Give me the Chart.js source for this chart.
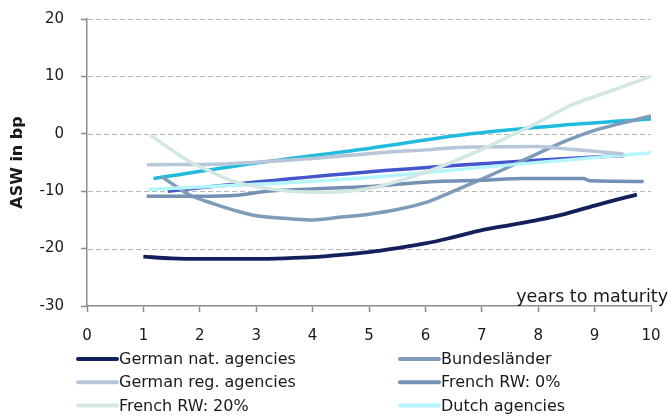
<!DOCTYPE html>
<html>
<head>
<meta charset="utf-8">
<script src="https://cdn.jsdelivr.net/npm/chart.js@4/dist/chart.umd.min.js"></script>
<style>
  html, body { margin: 0; padding: 0; background: #fff; }
  #wrap { width: 672px; height: 417px; position: relative; }
</style>
</head>
<body>
<div id="wrap"><canvas id="chart" width="672" height="417"></canvas></div>
<script>
// x axis ticks and y axis ticks
const xTicks = [0, 1, 2, 3, 4, 5, 6, 7, 8, 9, 10];
const yTicks = [-30, -20, -10, 0, 10, 20];

// series, years to maturity / ASW in bp
const germanNatX = [1.0, 1.5, 2, 2.5, 3, 3.5, 4, 4.5, 5, 5.5, 6, 6.5, 7, 7.5, 8, 8.5, 9, 9.5, 9.75];
const germanNatY = [-21.4, -21.7, -21.8, -21.8, -21.8, -21.7, -21.5, -21.1, -20.6, -19.9, -19.1, -18.0, -16.8, -15.9, -15.0, -13.9, -12.5, -11.2, -10.6];

const bundesX = [1.33, 1.6, 1.83, 2.25, 2.6, 2.95, 3.3, 3.6, 4.0, 4.5, 5.0, 5.5, 6.0, 6.5, 7.0, 7.5, 8.0, 8.5, 9.0, 9.5, 10];
const bundesY = [-7.5, -9.3, -10.7, -12.2, -13.3, -14.2, -14.6, -14.8, -15.0, -14.5, -14.0, -13.2, -12.0, -10.0, -7.9, -5.7, -3.4, -1.2, 0.6, 1.9, 3.1];

const germanRegX = [1.06, 2.54, 4, 5.2, 6, 6.8, 7.98, 8.57, 9.51];
const germanRegY = [-5.4, -5.2, -4.3, -3.3, -2.8, -2.3, -2.2, -2.7, -3.5];

const frenchRw0X = [1.06, 2.0, 2.66, 3.19, 4.0, 5.0, 5.5, 6.2, 7.0, 7.74, 8.8, 8.92, 9.87];
const frenchRw0Y = [-10.9, -10.9, -10.7, -10.0, -9.6, -9.2, -8.8, -8.3, -8.1, -7.8, -7.8, -8.2, -8.3];

const frenchRw20X = [1.12, 1.5, 1.83, 2.2, 2.54, 3, 3.6, 4.31, 5.02, 5.6, 6.2, 6.8, 7.39, 8, 8.57, 9.3, 10];
const frenchRw20Y = [-0.2, -2.8, -4.9, -6.6, -8.1, -9.2, -10.0, -10.2, -9.5, -8.0, -6.0, -3.6, -0.9, 2.0, 4.9, 7.5, 10.0];

const dutchX = [1.09, 3, 5.02, 7.39, 10];
const dutchY = [-9.7, -8.8, -7.6, -5.5, -3.3];

// two more lines that have no legend entry in the original
const extraAX = [1.18, 3, 5.02, 6.8, 8.57, 10];
const extraAY = [-7.8, -5.1, -2.5, 0, 1.6, 2.6];
const extraBX = [1.43, 3, 5.02, 7.98, 9.53];
const extraBY = [-10.0, -8.4, -6.6, -4.6, -3.8];

const pts = (xs, ys) => xs.map((x, i) => ({x: x, y: ys[i]}));

function line(label, xs, ys, color, width) {
  return {
    label: label,
    data: pts(xs, ys),
    borderColor: color,
    backgroundColor: color,
    borderWidth: width,
    pointRadius: 0,
    cubicInterpolationMode: 'monotone',
    fill: false
  };
}

const FONT = '"DejaVu Sans", "Open Sans", sans-serif';

// order here = draw order (later on top)
const datasets = [
  line('French RW: 20%', frenchRw20X, frenchRw20Y, '#D3E8E3', 3.5),
  line('German reg. agencies', germanRegX, germanRegY, '#B8C6D9', 3.5),
  line('Dutch agencies', dutchX, dutchY, '#B5F5FC', 3.5),
  line('French RW: 0%', frenchRw0X, frenchRw0Y, '#7591B4', 3.5),
  line('Bundesländer', bundesX, bundesY, '#7F9BBA', 3.5),
  line('', extraBX, extraBY, '#4456CC', 3.5),
  line('', extraAX, extraAY, '#22BBDD', 3.5),
  line('German nat. agencies', germanNatX, germanNatY, '#14205C', 3.8)
];

const legendOrder = ['German nat. agencies', 'Bundesländer', 'German reg. agencies',
                     'French RW: 0%', 'French RW: 20%', 'Dutch agencies'];

// no extra padding for tick labels sticking out, chart area = layout padding
const noPad = s => { s.paddingTop = 0; s.paddingBottom = 0; s.paddingLeft = 0; s.paddingRight = 0; };

// dashed grid, painted underneath whatever is already on the canvas
function gridLines(chart) {
  const ctx = chart.ctx, a = chart.chartArea, ys = chart.scales.y;
  ctx.save();
  ctx.globalCompositeOperation = 'destination-over';
  ctx.strokeStyle = '#B8B8B8';
  ctx.lineWidth = 1;
  ctx.setLineDash([5, 3]);
  yTicks.forEach(v => {
    if (v === ys.min) return;
    const y = Math.round(ys.getPixelForValue(v)) + 0.5;
    ctx.beginPath();
    ctx.moveTo(a.left + 1, y);
    ctx.lineTo(a.right, y);
    ctx.stroke();
  });
  ctx.restore();
}

const extras = {
  id: 'extras',
  afterDraw(chart) {
    gridLines(chart);
    const ctx = chart.ctx;
    ctx.save();
    ctx.fillStyle = '#1a1a1a';
    ctx.font = '17.5px ' + FONT;
    ctx.textAlign = 'right';
    ctx.textBaseline = 'alphabetic';
    ctx.fillText('years to maturity', 668, 302);

    // legend, two columns
    ctx.font = '16px ' + FONT;
    ctx.textAlign = 'left';
    ctx.textBaseline = 'middle';
    legendOrder.forEach((name, i) => {
      const ds = chart.data.datasets.find(d => d.label === name);
      const x0 = i % 2 === 0 ? 76 : 398;
      const y = 359 + Math.floor(i / 2) * 23.3;
      ctx.strokeStyle = ds.borderColor;
      ctx.lineWidth = 4;
      ctx.lineCap = 'round';
      ctx.beginPath();
      ctx.moveTo(x0 + 2, y);
      ctx.lineTo(x0 + 41, y);
      ctx.stroke();
      ctx.fillStyle = '#1a1a1a';
      ctx.fillText(name, x0 + 43, y + 1);
    });
    ctx.restore();
  }
};

new Chart(document.getElementById('chart'), {
  type: 'line',
  data: { datasets: datasets },
  options: {
    responsive: false,
    animation: false,
    layout: { padding: { top: 19, right: 21, bottom: 71, left: 0 } },
    plugins: {
      legend: { display: false },
      tooltip: { enabled: false }
    },
    scales: {
      x: {
        type: 'linear',
        min: 0,
        max: 10,
        afterBuildTicks: s => { s.ticks = xTicks.map(v => ({value: v})); },
        afterFit: s => { s.height = 40; noPad(s); },
        border: { color: '#8C8C8C', width: 1.5 },
        grid: {
          drawOnChartArea: false,
          drawTicks: true,
          tickLength: 6,
          tickColor: '#8C8C8C',
          tickWidth: 1.5
        },
        ticks: {
          padding: 15,
          color: '#1a1a1a',
          font: { family: FONT, size: 15 }
        }
      },
      y: {
        min: -30,
        max: 20,
        afterBuildTicks: s => { s.ticks = yTicks.map(v => ({value: v})); },
        afterFit: s => { s.width = 87; noPad(s); },
        border: { color: '#8C8C8C', width: 1.5 },
        grid: {
          drawOnChartArea: false,
          drawTicks: true,
          tickLength: 6,
          tickColor: '#8C8C8C',
          tickWidth: 1.5
        },
        ticks: {
          padding: 17,
          color: '#1a1a1a',
          font: { family: FONT, size: 15 }
        },
        title: {
          display: true,
          text: 'ASW in bp',
          color: '#1a1a1a',
          padding: { top: 8, bottom: 0 },
          font: { family: FONT, size: 16, weight: 'bold' }
        }
      }
    }
  },
  plugins: [extras]
});
</script>
</body>
</html>
